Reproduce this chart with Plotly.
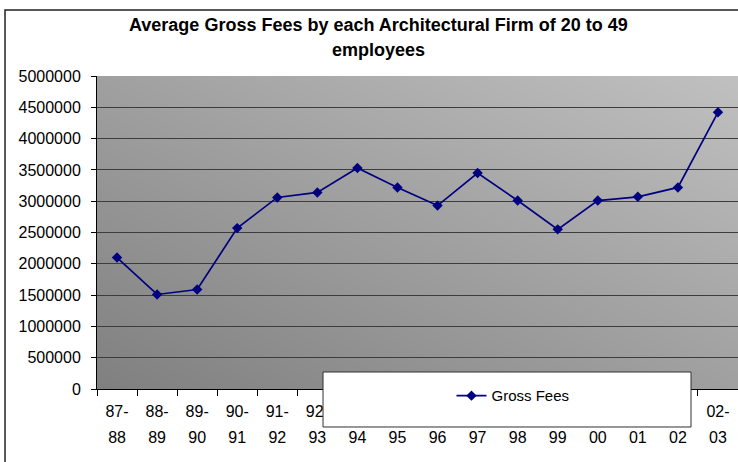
import base64
import struct
import zlib

import plotly.graph_objects as go

# Fiscal-year periods and average gross fees per firm (20-49 employees)
periods = ["87-88", "88-89", "89-90", "90-91", "91-92", "92-93", "93-94", "94-95",
           "95-96", "96-97", "97-98", "98-99", "99-00", "00-01", "01-02", "02-03"]
fees = [2100000, 1510000, 1590000, 2570000, 3060000, 3140000, 3530000, 3220000,
        2930000, 3450000, 3010000, 2550000, 3010000, 3070000, 3220000, 4420000]
y_ticks = [0, 500000, 1000000, 1500000, 2000000, 2500000, 3000000, 3500000,
           4000000, 4500000, 5000000]

series_name = "Gross Fees"
title_lines = ["Average Gross Fees by each Architectural Firm of 20 to 49", "employees"]

# Two-row tick labels: "87-" over "88"
row1 = [p.split("-")[0] + "-" for p in periods]
row2 = [p.split("-")[1] for p in periods]


def gradient_png(w, h):
    """Diagonal grey fill: dark at lower-left, light at upper-right."""
    raw = bytearray()
    for j in range(h):
        raw.append(0)
        v = 1 - j / (h - 1)
        for i in range(w):
            u = i / (w - 1)
            g = int(round(128 + 64 * (u + v) / 2))
            raw += bytes((g, g, g))

    def chunk(tag, data):
        c = struct.pack(">I", len(data)) + tag + data
        return c + struct.pack(">I", zlib.crc32(tag + data) & 0xFFFFFFFF)

    png = b"\x89PNG\r\n\x1a\n"
    png += chunk(b"IHDR", struct.pack(">IIBBBBB", w, h, 8, 2, 0, 0, 0))
    png += chunk(b"IDAT", zlib.compress(bytes(raw), 9))
    png += chunk(b"IEND", b"")
    return "data:image/png;base64," + base64.b64encode(png).decode()


FONT = "Liberation Sans, Arial, sans-serif"
NAVY = "#000080"

fig = go.Figure()
fig.add_trace(go.Scatter(
    x=periods, y=fees, name=series_name, mode="lines+markers",
    line=dict(color=NAVY, width=1.7),
    marker=dict(symbol="diamond", size=8, color=NAVY),
))
# invisible companion trace carrying the second row of category labels
fig.add_trace(go.Scatter(
    x=periods, y=fees, xaxis="x2", mode="markers",
    marker=dict(opacity=0), showlegend=False, hoverinfo="skip",
))

fig.update_layout(
    width=738, height=462,
    margin=dict(l=97, r=0, t=76, b=73),
    paper_bgcolor="white",
    plot_bgcolor="#a0a0a0",
    font=dict(family=FONT, size=16, color="black"),
    showlegend=True,
    legend=dict(
        x=0.553, y=-0.022, xanchor="left", yanchor="middle",
        bgcolor="rgba(0,0,0,0)", borderwidth=0,
        font=dict(family=FONT, size=15, color="black"),
    ),
    xaxis=dict(
        type="category", categoryorder="array", categoryarray=periods,
        range=[-0.5, len(periods) - 0.5],
        tickmode="array", tickvals=periods, ticktext=row1,
        tickson="boundaries", ticks="outside", ticklen=6, tickcolor="black",
        showline=True, linecolor="black", linewidth=1,
        showgrid=False, ticklabelstandoff=8,
    ),
    xaxis2=dict(
        type="category", categoryorder="array", categoryarray=periods,
        range=[-0.5, len(periods) - 0.5], overlaying="x", anchor="y", side="bottom",
        tickmode="array", tickvals=periods, ticktext=row2,
        ticks="", showline=False, showgrid=False, ticklabelstandoff=37,
    ),
    yaxis=dict(
        range=[0, 5000000], tickmode="array", tickvals=y_ticks,
        tickformat="d", ticks="outside", ticklen=5, tickcolor="black",
        showline=True, linecolor="black", linewidth=1,
        showgrid=True, gridcolor="#3c3c3c", gridwidth=1,
        zeroline=False, ticklabelstandoff=7,
    ),
    images=[dict(
        source=gradient_png(320, 160), xref="paper", yref="paper",
        x=0, y=1, sizex=1, sizey=1, xanchor="left", yanchor="top",
        sizing="stretch", layer="below",
    )],
    shapes=[
        # outer chart frame
        dict(type="rect", xref="paper", yref="paper",
             x0=-0.1435, x1=1.2, y0=-0.6, y1=1.211,
             line=dict(color="#222222", width=1.5), fillcolor="rgba(0,0,0,0)",
             layer="above"),
        # legend box
        dict(type="rect", xref="paper", yref="paper",
             x0=0.3526, x1=0.9267, y0=-0.1214, y1=0.0543,
             line=dict(color="#303030", width=1), fillcolor="white",
             layer="above"),
    ],
    annotations=[
        dict(text="<b>" + title_lines[0] + "</b>", xref="paper", yref="paper",
             x=0.4384, y=1.163, xanchor="center", yanchor="middle",
             showarrow=False, font=dict(family=FONT, size=18, color="black")),
        dict(text="<b>" + title_lines[1] + "</b>", xref="paper", yref="paper",
             x=0.4384, y=1.083, xanchor="center", yanchor="middle",
             showarrow=False, font=dict(family=FONT, size=18, color="black")),
    ],
)

fig.write_html("out.html")
